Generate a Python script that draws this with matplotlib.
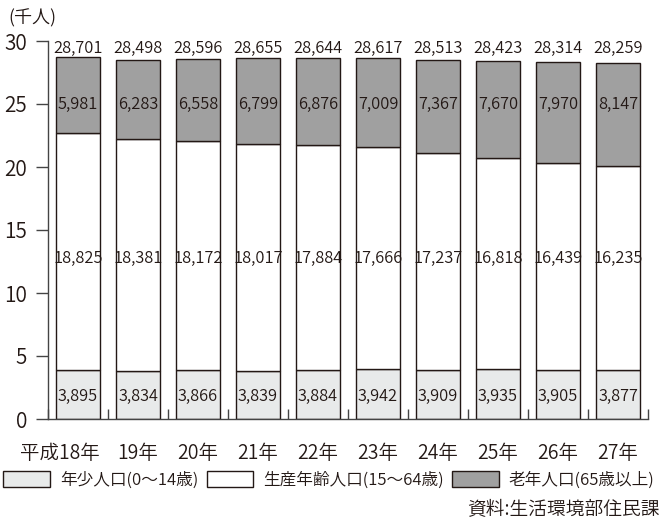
import matplotlib
matplotlib.use("Agg")
import matplotlib.pyplot as plt
from matplotlib.patches import Patch
from matplotlib.transforms import ScaledTranslation
import numpy as np

plt.rcParams['font.family'] = ['Noto Sans CJK JP', 'DejaVu Sans']
plt.rcParams['font.weight'] = 350

categories = ["平成18年", "19年", "20年", "21年", "22年", "23年", "24年", "25年", "26年", "27年"]
young = [3895, 3834, 3866, 3839, 3884, 3942, 3909, 3935, 3905, 3877]
working = [18825, 18381, 18172, 18017, 17884, 17666, 17237, 16818, 16439, 16235]
old = [5981, 6283, 6558, 6799, 6876, 7009, 7367, 7670, 7970, 8147]
totals = [28701, 28498, 28596, 28655, 28644, 28617, 28513, 28423, 28314, 28259]
series_names = ["年少人口(0〜14歳)", "生産年齢人口(15〜64歳)", "老年人口(65歳以上)"]
yticks = [0, 5, 10, 15, 20, 25, 30]

txt = '#231815'
edge = '#231815'
colors = ['#e8eaea', '#ffffff', '#a0a0a0']

fig = plt.figure(figsize=(6.62, 5.21), dpi=100)
ax = fig.add_axes([48/662, 1-419/521, 600/662, 378/521])

x = np.arange(len(categories))
y_k = np.array(young) / 1000
w_k = np.array(working) / 1000
o_k = np.array(old) / 1000
bw = 0.72
ax.bar(x, y_k, bw, color=colors[0], edgecolor=edge, linewidth=1.0, label=series_names[0])
ax.bar(x, w_k, bw, bottom=y_k, color=colors[1], edgecolor=edge, linewidth=1.0, label=series_names[1])
ax.bar(x, o_k, bw, bottom=y_k + w_k, color=colors[2], edgecolor=edge, linewidth=1.0, label=series_names[2])

fs = 11.8
for i in range(len(categories)):
    ax.text(x[i], 1.9, f"{young[i]:,}", ha='center', va='center', fontsize=fs, color=txt)
    ax.text(x[i], 12.8, f"{working[i]:,}", ha='center', va='center', fontsize=fs, color=txt)
    ax.text(x[i], 25.0, f"{old[i]:,}", ha='center', va='center', fontsize=fs, color=txt)
    ax.text(x[i], 29.45, f"{totals[i]:,}", ha='center', va='center', fontsize=fs, color=txt)

ax.set_xlim(-0.5, len(categories) - 0.5)
ax.set_ylim(0, 30)
ax.set_yticks(yticks)
ax.set_yticklabels([str(v) for v in yticks], fontsize=15, color=txt)
ax.tick_params(axis='y', direction='out', length=9, width=1, color='#444444', pad=6)
ax.set_xticks(x)
ax.set_xticklabels(categories, fontsize=14, color=txt)
ax.tick_params(axis='x', which='major', length=0, pad=17)
ax.set_xticks(np.arange(-0.5, len(categories), 1.0), minor=True)
ax.tick_params(axis='x', which='minor', direction='in', length=7, width=1, color='#444444')
for s in ['top', 'right']:
    ax.spines[s].set_visible(False)
for s in ['left', 'bottom']:
    ax.spines[s].set_color('#444444')
    ax.spines[s].set_linewidth(1.0)

# shift first label so that "18年" sits under its bar
first = ax.get_xticklabels()[0]
first.set_transform(first.get_transform() + ScaledTranslation(-18/100, 0, fig.dpi_scale_trans))

fig.text(8/662, 1-18/521, "(千人)", fontsize=13, color=txt, va='center', ha='left')

handles = [Patch(facecolor=c, edgecolor=edge, linewidth=1.0) for c in colors]
leg = fig.legend(handles, series_names, loc='center left', bbox_to_anchor=(0.0, 1-480/521),
                 ncol=3, frameon=False, fontsize=12, handlelength=2.8, handleheight=1.1,
                 handletextpad=0.6, columnspacing=0.5, borderaxespad=0, borderpad=0.2)
for t in leg.get_texts():
    t.set_color(txt)

fig.text(660/662, 1-510/521, "資料:生活環境部住民課", fontsize=13.5, color=txt, ha='right', va='center')

fig.savefig("out.png", dpi=100)
